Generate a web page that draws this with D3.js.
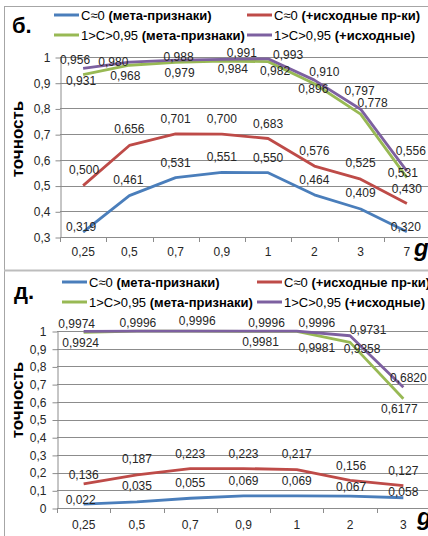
<!DOCTYPE html>
<html>
<head>
<meta charset="utf-8">
<script src="https://cdn.jsdelivr.net/npm/d3@7"></script>
<style>
  html, body { margin: 0; padding: 0; background: #fff; }
  svg { display: block; }
  text { font-family: "Liberation Sans", Arial, sans-serif; }
</style>
</head>
<body>
<svg id="chart" width="428" height="536"></svg>
<script>
// ---- panel "б." ----
const catsB = ["0,25", "0,5", "0,7", "0,9", "1", "2", "3", "7"];
const metaC0B   = [0.319, 0.461, 0.531, 0.551, 0.550, 0.464, 0.409, 0.320];
const fullC0B   = [0.500, 0.656, 0.701, 0.700, 0.683, 0.576, 0.525, 0.430];
const metaC95B  = [0.931, 0.968, 0.979, 0.984, 0.982, 0.896, 0.778, 0.531];
const fullC95B  = [0.956, 0.980, 0.988, 0.991, 0.993, 0.910, 0.797, 0.556];
const yTicksB   = [0.3, 0.4, 0.5, 0.6, 0.7, 0.8, 0.9, 1];

// ---- panel "д." ----
const catsD = ["0,25", "0,5", "0,7", "0,9", "1", "2", "3"];
const metaC0D   = [0.022, 0.035, 0.055, 0.069, 0.069, 0.067, 0.058];
const fullC0D   = [0.136, 0.187, 0.223, 0.223, 0.217, 0.156, 0.127];
const metaC95D  = [0.9924, 0.9990, 0.9990, 0.9981, 0.9981, 0.9358, 0.6177];
const fullC95D  = [0.9974, 0.9996, 0.9996, 0.9996, 0.9996, 0.9731, 0.6820];
const yTicksD   = [0, 0.1, 0.2, 0.3, 0.4, 0.5, 0.6, 0.7, 0.8, 0.9, 1];

// legend entries: [plain part, bold part]
const seriesNames = [
  ["C≈0 ", "(мета-признаки)"],
  ["C≈0 ", "(+исходные пр-ки)"],
  ["1>C>0,95 ", "(мета-признаки)"],
  ["1>C>0,95 ", "(+исходные)"]
];
const seriesColors = ["#4A7EBB", "#BE4B48", "#98B954", "#7D60A0"];
const axisTitle = "точность";
const xVarName = "g";

const locale = d3.formatLocale({ decimal: ",", thousands: " ", grouping: [3], currency: ["", ""] });
const fmtTick = locale.format("~g");

const svg = d3.select("#chart");

// outer frame lines
svg.append("line").attr("x1", 4.5).attr("x2", 4.5).attr("y1", 6).attr("y2", 536)
  .attr("stroke", "#a6a6a6").attr("stroke-width", 1);
svg.append("line").attr("x1", 4).attr("x2", 428).attr("y1", 6.5).attr("y2", 6.5)
  .attr("stroke", "#a6a6a6").attr("stroke-width", 1);
svg.append("line").attr("x1", 4).attr("x2", 428).attr("y1", 270.5).attr("y2", 270.5)
  .attr("stroke", "#bdbdbd").attr("stroke-width", 2);

function drawPanel(cfg) {
  const g = svg.append("g");
  const x = d3.scaleBand().domain(cfg.cats).range([cfg.left, cfg.right]).padding(0);
  const y = d3.scaleLinear().domain(cfg.yDomain).range([cfg.bottom, cfg.top]);
  const cx = d => x(d) + x.bandwidth() / 2;

  // horizontal gridlines
  g.append("g").selectAll("line").data(cfg.yTicks).join("line")
    .attr("x1", cfg.left).attr("x2", 440)
    .attr("y1", d => Math.round(y(d)) + 0.5).attr("y2", d => Math.round(y(d)) + 0.5)
    .attr("stroke", "#8c8c8c").attr("stroke-width", 1);

  // y axis
  const yAxis = g.append("g")
    .attr("transform", `translate(${cfg.left + 0.5},0.5)`)
    .call(d3.axisLeft(y).tickValues(cfg.yTicks).tickFormat(fmtTick)
      .tickSize(5).tickSizeOuter(0).tickPadding(cfg.yPad));
  yAxis.select(".domain").attr("stroke", "#8c8c8c");
  yAxis.selectAll(".tick line").attr("stroke", "#8c8c8c");
  yAxis.selectAll(".tick text").attr("font-size", 12).attr("fill", "#262626")
    .attr("font-family", "Liberation Sans, Arial, sans-serif");
  // extend the axis line down into the first tick
  g.append("line").attr("x1", cfg.left + 0.5).attr("x2", cfg.left + 0.5)
    .attr("y1", y(cfg.yDomain[0])).attr("y2", y(cfg.yDomain[0]) + 5)
    .attr("stroke", "#8c8c8c");

  // x axis: labels centred in each band, ticks at band boundaries
  const xAxis = g.append("g")
    .attr("transform", `translate(0,${cfg.bottom})`)
    .call(d3.axisBottom(x).tickSize(0).tickPadding(cfg.xPad));
  xAxis.select(".domain").remove();
  xAxis.selectAll(".tick text").attr("font-size", 12).attr("fill", "#262626")
    .attr("font-family", "Liberation Sans, Arial, sans-serif");
  const bounds = cfg.cats.slice(1).map(c => x(c)).concat([x(cfg.cats[cfg.cats.length - 1]) + x.bandwidth()]);
  g.append("g").selectAll("line").data(bounds).join("line")
    .attr("x1", d => Math.round(d) + 0.5).attr("x2", d => Math.round(d) + 0.5)
    .attr("y1", cfg.bottom).attr("y2", cfg.bottom + 5)
    .attr("stroke", "#8c8c8c");

  // series lines
  const line = d3.line().x((d, i) => cx(cfg.cats[i])).y(d => y(d));
  cfg.series.forEach((vals, s) => {
    g.append("path").datum(vals)
      .attr("d", line)
      .attr("fill", "none")
      .attr("stroke", seriesColors[s])
      .attr("stroke-width", 2.8)
      .attr("stroke-linejoin", "round");
  });

  // value labels
  cfg.series.forEach((vals, s) => {
    const f = locale.format(`.${cfg.decimals[s]}f`);
    vals.forEach((v, i) => {
      const sh = cfg.shifts[s][i];
      if (!sh) return;
      g.append("text")
        .attr("x", cx(cfg.cats[i]) + sh[0])
        .attr("y", y(v) + sh[1])
        .attr("text-anchor", "middle")
        .attr("dominant-baseline", "central")
        .attr("font-size", 12)
        .attr("fill", "#262626")
        .text(f(v));
    });
  });

  // y axis title
  g.append("text")
    .attr("transform", `translate(${cfg.titleX},${cfg.titleY}) rotate(-90)`)
    .attr("text-anchor", "middle")
    .attr("font-size", 17).attr("font-weight", "bold").attr("fill", "#000")
    .text(axisTitle);

  // variable name at the end of the x axis
  g.append("text")
    .attr("x", cfg.gX).attr("y", cfg.gY)
    .attr("font-family", "Liberation Serif, Times New Roman, serif")
    .attr("font-style", "italic").attr("font-weight", "bold")
    .attr("font-size", 24).attr("fill", "#000")
    .text(xVarName);

  // panel letter
  g.append("text")
    .attr("x", cfg.letterX).attr("y", cfg.letterY)
    .attr("font-size", 22).attr("font-weight", "bold").attr("fill", "#000")
    .text(cfg.letter);

  // legend
  cfg.legend.forEach((pos, s) => {
    g.append("line")
      .attr("x1", pos[0]).attr("x2", pos[0] + 25)
      .attr("y1", pos[1]).attr("y2", pos[1])
      .attr("stroke", seriesColors[s]).attr("stroke-width", 3);
    const t = g.append("text")
      .attr("x", pos[0] + 27).attr("y", pos[1])
      .attr("dominant-baseline", "central")
      .attr("font-size", 13).attr("fill", "#000");
    t.append("tspan").text(seriesNames[s][0]);
    t.append("tspan").attr("font-weight", "bold").text(seriesNames[s][1]);
  });
}

drawPanel({
  letter: "б.", letterX: 12, letterY: 33,
  cats: catsB, yDomain: [0.3, 1], yTicks: yTicksB,
  left: 60, right: 430, top: 57, bottom: 237,
  yPad: 5, xPad: 10,
  series: [metaC0B, fullC0B, metaC95B, fullC95B],
  decimals: [3, 3, 3, 3],
  shifts: [
    [[-2, -5], [-1, -16], [0, -15], [0, -15], [0, -15], [0, -15], [0, -16], [-1, -5]],
    [[1, -16], [0, -16], [0, -15], [0, -15], [0, -15], [0, -15], [0, -16], [0, -15]],
    [[-2, 6], [-4, 11], [4, 11], [11, 8], [7, 9], [-1, 5], [12, -11], [-4, -5]],
    [[-8, -8], [-16, 0], [3, -3], [20, -6], [20, -4], [10, -8], [-1, -18], [4, -20]]
  ],
  legend: [[54, 15], [247, 15], [54, 35], [247, 35]],
  titleX: 23, titleY: 139,
  gX: 414, gY: 256
});

drawPanel({
  letter: "д.", letterX: 14, letterY: 299,
  cats: catsD, yDomain: [0, 1], yTicks: yTicksD,
  left: 57, right: 430, top: 331, bottom: 508,
  yPad: 6, xPad: 12,
  series: [metaC0D, fullC0D, metaC95D, fullC95D],
  decimals: [3, 3, 4, 4],
  shifts: [
    [[-3, -4], [0, -16], [0, -15], [0, -15], [0, -15], [1, -9], [0, -6]],
    [[0, -9], [0, -16], [0, -15], [0, -15], [0, -16], [1, -14], [0, -15]],
    [[-3, 11], null, null, [17, 11], [20, 17], [12, 7], [-4, 10]],
    [[-7, -7], [1, -8], [7, -10], [23, -8], [20, -8], [18, -6], [5, -9]]
  ],
  legend: [[62, 282], [257, 282], [62, 302], [257, 302]],
  titleX: 23, titleY: 400,
  gX: 417, gY: 525
});
</script>
</body>
</html>
